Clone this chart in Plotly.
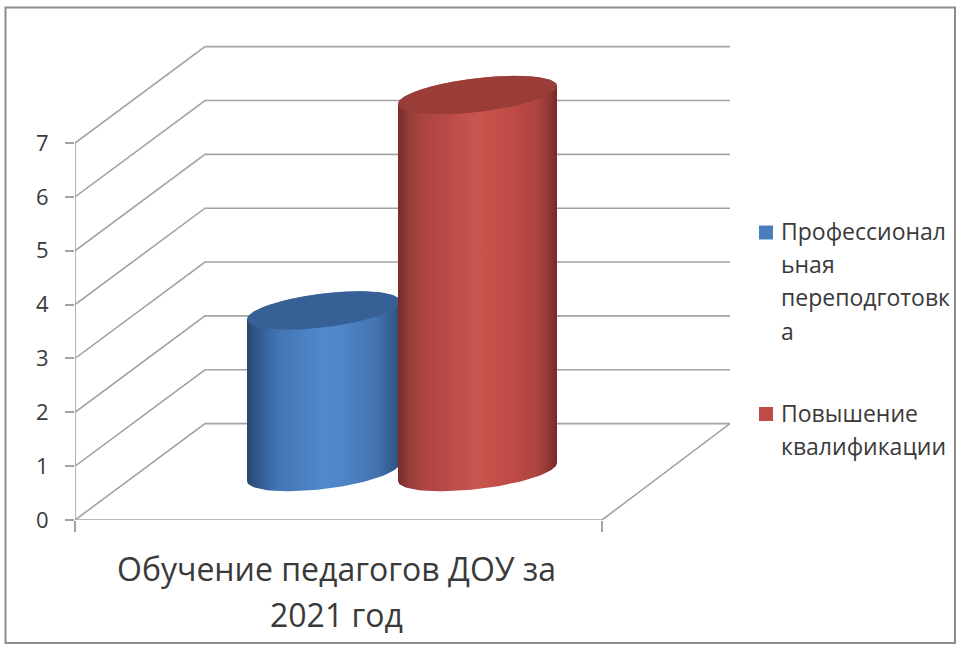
import numpy as np
import plotly.graph_objects as go

# ---- data ----
category_lines = ["Обучение педагогов ДОУ за", "2021 год"]
series_names = ["Профессиональная переподготовка", "Повышение квалификации"]
series_values = [3, 7]
legend_lines = [["Профессионал", "ьная", "переподготовк", "а"], ["Повышение", "квалификации"]]
y_ticks = [0, 1, 2, 3, 4, 5, 6, 7]

# ---- style ----
W, H = 961, 646
AX_L, AX_B, UNIT_Y, FRONT_W = 75, 520, 53.85, 527
RIGHT, TOP = 730, 40
DX, DZ = 130 / FRONT_W, 1.79
GRID = "#a3a3a3"
TEXT = "#3a3a3a"
FONT = "Open Sans"
swatch_colors = ["#4a7ebb", "#be4b48"]
cap_colors = ["#376196", "#9a3c38"]
side_scales = [
    [[0, "#27466c"], [0.07, "#32598c"], [0.2, "#4275b4"], [0.5, "#5089cc"], [0.62, "#4f86c8"], [0.85, "#4273b0"], [0.96, "#335a8c"], [1, "#2a4a72"]],
    [[0, "#762c2a"], [0.08, "#9a3f3b"], [0.18, "#ae4542"], [0.5, "#c9554f"], [0.72, "#c04a45"], [0.88, "#ad4440"], [0.96, "#8a3532"], [1, "#752b29"]],
]
cyl_cx = [(323.5 - AX_L) / FRONT_W, (477.5 - AX_L) / FRONT_W]
cyl_a = [76.5 / FRONT_W, 79.5 / FRONT_W]
CYL_BASE, CYL_B, CYL_K = (AX_B - 472) / UNIT_Y, 17 / UNIT_Y, 9 / UNIT_Y


def px(x):
    return x / W


def py(y):
    return 1 - y / H


fig = go.Figure()

# back walls and floor edges, one level per axis tick
gx, gy = [], []
xmax = (RIGHT - AX_L) / FRONT_W
for v in y_ticks:
    gx += [0, DX, xmax, None]
    gy += [v, v + DZ, v + DZ, None]
gx += [xmax, 1, None, 0, 1, None, 0, 0]
gy += [DZ, 0, None, 0, 0, None, 0, y_ticks[-1]]
fig.add_trace(go.Scatter(x=gx, y=gy, mode="lines", line=dict(color=GRID, width=1.6),
                         hoverinfo="skip", showlegend=False, cliponaxis=False))

# cylinders
for i, val in enumerate(series_values):
    c, a = cyl_cx[i], cyl_a[i]
    t_back = np.linspace(np.pi, 0, 60)
    t_front = np.linspace(0, -np.pi, 60)
    top = CYL_BASE + val
    sx = np.r_[c + a * np.cos(t_back), c + a * np.cos(t_front)]
    sy = np.r_[top + CYL_K * np.cos(t_back) + CYL_B * np.sin(t_back),
               CYL_BASE + CYL_K * np.cos(t_front) + CYL_B * np.sin(t_front)]
    fig.add_trace(go.Scatter(x=sx, y=sy, mode="lines", fill="toself", line=dict(width=0),
                             fillgradient=dict(type="horizontal", colorscale=side_scales[i]),
                             name=series_names[i], showlegend=False, cliponaxis=False))
    t = np.linspace(0, 2 * np.pi, 120)
    fig.add_trace(go.Scatter(x=c + a * np.cos(t), y=top + CYL_K * np.cos(t) + CYL_B * np.sin(t),
                             mode="lines", fill="toself", line=dict(width=0), fillcolor=cap_colors[i],
                             name=series_names[i], showlegend=False, cliponaxis=False))

# legend and category label
annotations = []
shapes = [dict(type="rect", xref="paper", yref="paper", x0=px(5.5), x1=px(955), y0=py(7.5), y1=py(643),
               line=dict(color="#8c8c8c", width=2), fillcolor="rgba(0,0,0,0)", layer="below")]
legend_y = [[231, 264, 297, 331], [413, 446]]
swatch_y = [232.5, 414]
for i, lines in enumerate(legend_lines):
    shapes.append(dict(type="rect", xref="paper", yref="paper", x0=px(759), x1=px(773),
                       y0=py(swatch_y[i] - 7), y1=py(swatch_y[i] + 7),
                       fillcolor=swatch_colors[i], line=dict(width=0)))
    for line, y in zip(lines, legend_y[i]):
        annotations.append(dict(text=line, xref="paper", yref="paper", x=px(779), y=py(y),
                                xanchor="left", yanchor="middle", showarrow=False,
                                font=dict(family=FONT, size=23, color=TEXT)))
for line, y in zip(category_lines, [568, 614]):
    annotations.append(dict(text=line, xref="paper", yref="paper", x=px(336), y=py(y),
                            xanchor="center", yanchor="middle", showarrow=False,
                            font=dict(family=FONT, size=32, color=TEXT)))

fig.update_layout(
    width=W, height=H, margin=dict(l=0, r=0, t=0, b=0, pad=0, autoexpand=False),
    paper_bgcolor="white", plot_bgcolor="rgba(0,0,0,0)", showlegend=False,
    font=dict(family=FONT, color=TEXT),
    shapes=shapes, annotations=annotations,
    xaxis=dict(domain=[px(AX_L), px(RIGHT)], range=[0, xmax], tickvals=[0, 1], ticks="outside",
               ticklen=11, tickwidth=1.6, tickcolor=GRID, showticklabels=False, automargin=False,
               showgrid=False, zeroline=False, showline=False, fixedrange=True),
    yaxis=dict(domain=[py(AX_B), py(TOP)], range=[0, (AX_B - TOP) / UNIT_Y], tickvals=y_ticks,
               ticks="outside", ticklen=9, tickwidth=1.6, tickcolor=GRID, ticklabelstandoff=12,
               tickfont=dict(family=FONT, size=22, color=TEXT), automargin=False,
               showgrid=False, zeroline=False, showline=False, fixedrange=True),
)

fig.write_html("out.html", config={"displayModeBar": False, "responsive": False},
               post_script="document.body.style.margin='0';")
